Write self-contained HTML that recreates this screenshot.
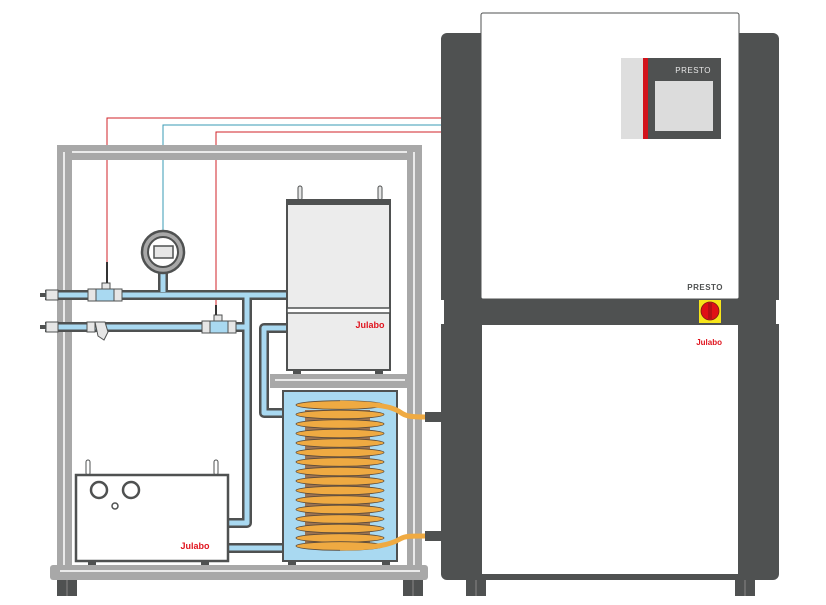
<!DOCTYPE html>
<html><head><meta charset="utf-8"><style>html,body{margin:0;padding:0;background:#fff}svg{display:block}</style></head>
<body>
<svg width="826" height="605" viewBox="0 0 826 605" xmlns="http://www.w3.org/2000/svg" font-family="Liberation Sans, sans-serif">
<polyline points="441,118 107,118 107,262" fill="none" stroke="#d2232a" stroke-width="1"/>
<polyline points="441,125 163,125 163,232" fill="none" stroke="#3a9bb5" stroke-width="1"/>
<polyline points="441,132 216,132 216,290 218,295 216,300 216,306" fill="none" stroke="#d2232a" stroke-width="1"/>

<rect x="57" y="145" width="365" height="15" fill="#a8a8a8"/>
<line x1="65" y1="152" x2="414" y2="152" stroke="#fff" stroke-width="1.5"/>
<rect x="57" y="145" width="15" height="435" fill="#a8a8a8"/>
<line x1="64" y1="152" x2="64" y2="575" stroke="#fff" stroke-width="1.5"/>
<rect x="407" y="145" width="15" height="435" fill="#a8a8a8"/>
<line x1="414" y1="152" x2="414" y2="575" stroke="#fff" stroke-width="1.5"/>
<rect x="50" y="565" width="378" height="15" rx="3" fill="#a8a8a8"/>
<line x1="60" y1="571" x2="420" y2="571" stroke="#fff" stroke-width="1.5"/>
<rect x="57" y="580" width="20" height="16" fill="#4f5151"/><line x1="67" y1="580" x2="67" y2="596" stroke="#888"/>
<rect x="403" y="580" width="20" height="16" fill="#4f5151"/><line x1="413" y1="580" x2="413" y2="596" stroke="#888"/>

<g fill="none" stroke-linejoin="round">
<g stroke="#4f5151" stroke-width="10">
<polyline points="45,295 287,295"/>
<polyline points="45,327 247,327"/>
<polyline points="247,295 247,523 228,523"/>
<polyline points="287,328 264,328 264,413 283,413"/>
<polyline points="228,548 283,548"/>
<line x1="163" y1="272" x2="163" y2="295"/>
</g>
<g stroke="#a9d9f1" stroke-width="5">
<polyline points="45,295 287,295"/>
<polyline points="45,327 247,327"/>
<polyline points="247,295 247,523 228,523"/>
<polyline points="287,328 264,328 264,413 283,413"/>
<polyline points="228,548 283,548"/>
<line x1="163" y1="272" x2="163" y2="292"/>
</g>
</g>
<g fill="#e6e6e6" stroke="#4f5151" stroke-width="1">
<rect x="46" y="290" width="12" height="10"/><rect x="46" y="322" width="12" height="10"/>
<rect x="88" y="289" width="8" height="12"/><rect x="114" y="289" width="8" height="12"/>
<rect x="96" y="289" width="18" height="12" fill="#a9d9f1"/>
<rect x="102" y="283" width="8" height="6"/>
<rect x="202" y="321" width="8" height="12"/><rect x="228" y="321" width="8" height="12"/>
<rect x="210" y="321" width="18" height="12" fill="#a9d9f1"/>
<rect x="214" y="315" width="8" height="6"/>
<rect x="87" y="322" width="8" height="10"/>
<path d="M95,322 L105,322 L108,332 L104,340 L98,336 Z"/>
</g>
<rect x="40" y="293" width="6" height="4" fill="#4f5151"/><rect x="40" y="325" width="6" height="4" fill="#4f5151"/>
<line x1="107" y1="262" x2="107" y2="283" stroke="#333" stroke-width="2"/>
<line x1="216" y1="305" x2="216" y2="315" stroke="#333" stroke-width="2"/>

<circle cx="163" cy="252" r="21" fill="#a8a8a8" stroke="#4f5151" stroke-width="2.5"/>
<circle cx="163" cy="252" r="15" fill="#fff" stroke="#4f5151" stroke-width="2"/>
<rect x="154" y="246" width="19" height="12" fill="#e6e6e6" stroke="#4f5151" stroke-width="1.5"/>

<rect x="298" y="186" width="4" height="14" rx="2" fill="#e6e6e6" stroke="#4f5151"/>
<rect x="378" y="186" width="4" height="14" rx="2" fill="#e6e6e6" stroke="#4f5151"/>
<rect x="287" y="200" width="103" height="170" fill="#ececec" stroke="#4f5151" stroke-width="2"/>
<rect x="287" y="199" width="103" height="6" fill="#4f5151"/>
<rect x="287" y="308" width="103" height="5" fill="#fff" stroke="#4f5151" stroke-width="1.5"/>
<text x="370" y="328" font-size="9" font-weight="bold" fill="#e0141e" text-anchor="middle">Julabo</text>
<rect x="293" y="370" width="8" height="4" fill="#4f5151"/><rect x="375" y="370" width="8" height="4" fill="#4f5151"/>
<rect x="270" y="374" width="138" height="14" fill="#a8a8a8"/>
<line x1="275" y1="380" x2="405" y2="380" stroke="#fff" stroke-width="1.5"/>

<rect x="283" y="391" width="114" height="170" fill="#a9d9f1" stroke="#4f5151" stroke-width="2"/>
<rect x="305" y="410" width="65" height="134" fill="#9a5a2a" opacity="0.8"/>
<g fill="#efaa42" stroke="#5a4a3a" stroke-width="0.8">
<ellipse cx="340" cy="405" rx="44" ry="4.3"/><ellipse cx="340" cy="414.5" rx="44" ry="4.3"/>
<ellipse cx="340" cy="424" rx="44" ry="4.3"/><ellipse cx="340" cy="433.5" rx="44" ry="4.3"/>
<ellipse cx="340" cy="443" rx="44" ry="4.3"/><ellipse cx="340" cy="452.5" rx="44" ry="4.3"/>
<ellipse cx="340" cy="462" rx="44" ry="4.3"/><ellipse cx="340" cy="471.5" rx="44" ry="4.3"/>
<ellipse cx="340" cy="481" rx="44" ry="4.3"/><ellipse cx="340" cy="490.5" rx="44" ry="4.3"/>
<ellipse cx="340" cy="500" rx="44" ry="4.3"/><ellipse cx="340" cy="509.5" rx="44" ry="4.3"/>
<ellipse cx="340" cy="519" rx="44" ry="4.3"/><ellipse cx="340" cy="528.5" rx="44" ry="4.3"/>
<ellipse cx="340" cy="538" rx="44" ry="4.3"/><ellipse cx="340" cy="546" rx="44" ry="4.3"/>
</g>
<path d="M340,403 C370,404 390,405 400,412 C405,416 410,417 425,417" fill="none" stroke="#efaa42" stroke-width="5"/>
<path d="M340,548 C375,548 390,545 400,539 C405,536 410,536 425,536" fill="none" stroke="#efaa42" stroke-width="5"/>
<rect x="425" y="412" width="16" height="10" fill="#4f5151"/>
<rect x="425" y="531" width="16" height="10" fill="#4f5151"/>
<rect x="288" y="561" width="8" height="4" fill="#4f5151"/><rect x="382" y="561" width="8" height="4" fill="#4f5151"/>

<rect x="86" y="460" width="4" height="15" rx="2" fill="#fff" stroke="#4f5151"/>
<rect x="214" y="460" width="4" height="15" rx="2" fill="#fff" stroke="#4f5151"/>
<rect x="76" y="475" width="152" height="86" fill="#fff" stroke="#4f5151" stroke-width="2.5"/>
<circle cx="99" cy="490" r="8" fill="#fff" stroke="#4f5151" stroke-width="2.5"/>
<circle cx="131" cy="490" r="8" fill="#fff" stroke="#4f5151" stroke-width="2.5"/>
<circle cx="115" cy="506" r="3" fill="#fff" stroke="#4f5151" stroke-width="1.5"/>
<text x="195" y="549" font-size="9" font-weight="bold" fill="#e0141e" text-anchor="middle">Julabo</text>
<rect x="88" y="561" width="8" height="4" fill="#4f5151"/><rect x="201" y="561" width="8" height="4" fill="#4f5151"/>

<rect x="441" y="33" width="338" height="547" rx="6" fill="#4f5151"/>
<rect x="481" y="13" width="258" height="286" rx="2" fill="#fff" stroke="#4f5151" stroke-width="1"/>
<rect x="482" y="325" width="256" height="249" fill="#fff"/>
<rect x="441" y="300" width="3" height="24" fill="#fff"/>
<rect x="776" y="300" width="3" height="24" fill="#fff"/>
<rect x="621" y="58" width="22" height="81" fill="#dedede"/>
<rect x="643" y="58" width="5" height="81" fill="#d2131c"/>
<rect x="648" y="58" width="73" height="81" fill="#4f5151"/>
<rect x="655" y="81" width="58" height="50" fill="#dcdcdc"/>
<text x="711" y="73" font-size="8" fill="#e6e6e6" text-anchor="end" letter-spacing="0.5">PRESTO</text>
<text x="723" y="290" font-size="8" font-weight="bold" fill="#4f5151" text-anchor="end" letter-spacing="0.5">PRESTO</text>
<rect x="699" y="300" width="22" height="23" fill="#f6e41a"/>
<circle cx="710" cy="311" r="9" fill="#e01016" stroke="#7a1a1a" stroke-width="0.8"/>
<rect x="708" y="303" width="4" height="16" fill="#b41016"/>
<text x="722" y="345" font-size="8" font-weight="bold" fill="#e0141e" text-anchor="end">Julabo</text>
<rect x="466" y="580" width="20" height="16" fill="#4f5151"/><line x1="476" y1="580" x2="476" y2="596" stroke="#888"/>
<rect x="735" y="580" width="20" height="16" fill="#4f5151"/><line x1="745" y1="580" x2="745" y2="596" stroke="#888"/>
</svg>
</body></html>
